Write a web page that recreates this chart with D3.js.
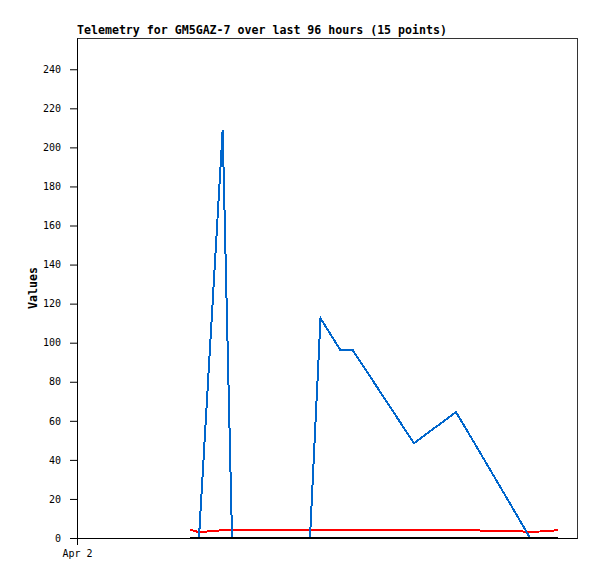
<!DOCTYPE html>
<html>
<head>
<meta charset="utf-8">
<script src="https://cdn.jsdelivr.net/npm/d3@7"></script>
<style>
  body { margin: 0; background: #fff; }
  svg { display: block; }
</style>
</head>
<body>
<div id="plot"></div>
<script>
// telemetry samples (local time)
const times = [
  '2024-04-02 21:42', '2024-04-02 23:25', '2024-04-03 03:58', '2024-04-03 05:46',
  '2024-04-03 20:44', '2024-04-03 22:45', '2024-04-04 02:30', '2024-04-04 04:52',
  '2024-04-04 16:42', '2024-04-05 00:46', '2024-04-05 04:13', '2024-04-05 11:43',
  '2024-04-05 14:59', '2024-04-05 17:52', '2024-04-05 20:21',
];
const blueValues = [0, 0, 209, 0, 0, 112.5, 96.5, 96.5, 48.5, 64.5, 49, 15, 0, 0, 0];
const redValues = [4.2, 3.0, 4.0, 4.0, 4.0, 4.0, 4.0, 4.0, 4.0, 4.0, 3.9, 3.5, 3.2, 3.4, 4.0];
const blackValues = [0, 0, 0, 0, 0, 0, 0, 0, 0, 0, 0, 0, 0, 0, 0];
const yTicks = [0, 20, 40, 60, 80, 100, 120, 140, 160, 180, 200, 220, 240];
const xTickLabels = ['2024-04-02 00:00'];

const title = 'Telemetry for GM5GAZ-7 over last 96 hours (15 points)';

const parse = d3.timeParse('%Y-%m-%d %H:%M');
const dates = times.map(parse);
const start = parse('2024-04-02 00:00');
const end = d3.timeHour.offset(start, 96);

// position and dimensions
const margin = { top: 38, right: 20, bottom: 41, left: 77 };
const width = 500;
const height = 500;

const svg = d3.select('#plot')
  .append('svg')
  .attr('width', 597)
  .attr('height', 579)
  .style('font-family', '"DejaVu Sans Mono", monospace');

const x = d3.scaleTime()
  .domain([start, end])
  .range([margin.left, margin.left + width]);

const y = d3.scaleLinear()
  .domain([0, 256])
  .range([margin.top + height, margin.top]);

// frame
svg.append('rect')
  .attr('x', margin.left + 0.5)
  .attr('y', margin.top + 0.5)
  .attr('width', width)
  .attr('height', height)
  .attr('fill', 'none')
  .attr('stroke', '#333')
  .attr('stroke-width', 1);

// title
svg.append('text')
  .attr('x', margin.left)
  .attr('y', 34)
  .style('font-size', '11.6px')
  .style('font-weight', 'bold')
  .text(title);

// y axis
const yAxis = svg.append('g')
  .attr('transform', `translate(${margin.left},0)`)
  .call(d3.axisLeft(y).tickValues(yTicks).tickSize(7).tickSizeOuter(0).tickPadding(9));
yAxis.selectAll('text').style('font-size', '10px').style('font-family', '"DejaVu Sans Mono", monospace');
yAxis.select('.domain').attr('stroke', '#000');

// x axis
const xAxis = svg.append('g')
  .attr('transform', `translate(0,${margin.top + height})`)
  .call(d3.axisBottom(x)
    .tickValues(xTickLabels.map(parse))
    .tickFormat(d3.timeFormat('%b %-d'))
    .tickSize(7)
    .tickSizeOuter(0)
    .tickPadding(5));
xAxis.selectAll('text').style('font-size', '10px').style('font-family', '"DejaVu Sans Mono", monospace');

// y label
svg.append('text')
  .attr('transform', `translate(37,${margin.top + height / 2}) rotate(-90)`)
  .attr('text-anchor', 'middle')
  .style('font-size', '11.6px')
  .style('font-weight', 'bold')
  .text('Values');

// series
const line = (vals) => d3.line()
  .x((d, i) => x(dates[i]))
  .y((d) => y(d))(vals);

[[redValues, '#ff0000'], [blueValues, '#0066cc'], [blackValues, '#000000']].forEach(([vals, col]) => {
  svg.append('path')
    .attr('d', line(vals))
    .attr('fill', 'none')
    .attr('stroke', col)
    .attr('stroke-width', 2)
    .attr('shape-rendering', 'crispEdges');
});
</script>
</body>
</html>
